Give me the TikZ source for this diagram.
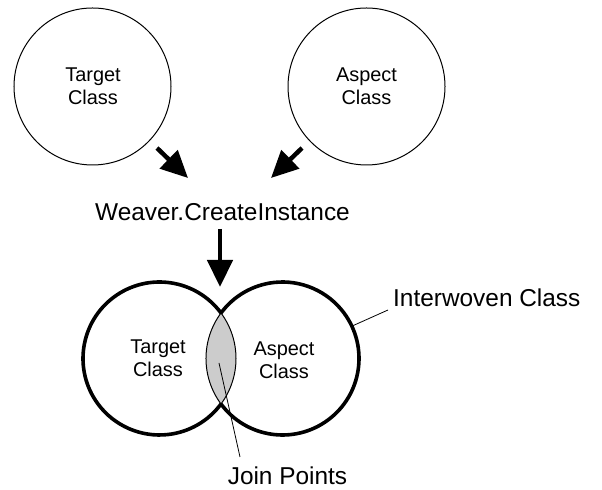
\documentclass[tikz,border=0pt]{standalone}
\usepackage{fontspec}
\setmainfont{Liberation Sans}
\usetikzlibrary{arrows.meta}
\definecolor{lensgray}{HTML}{CCCCCC}
\tikzset{
  bigtext/.style={font=\fontsize{24.5}{28}\selectfont, inner sep=0pt},
  smalltext/.style={font=\fontsize{20}{23.5}\selectfont, align=center, inner sep=0pt},
  topclass/.style={circle, draw, line width=1bp, minimum size=157bp, inner sep=0pt},
  botclass/.style={circle, minimum size=153bp, inner sep=0pt},
  fatarrow/.style={line width=4.5bp, -{Triangle[length=27bp,width=25bp]}},
  thickring/.style={line width=3.6bp},
  leader/.style={line width=0.8bp},
}
\begin{document}
\begin{tikzpicture}[x=1bp,y=1bp]
\useasboundingbox (0,0) rectangle (602,490);
% top classes
\node[topclass] (tc) at (92.5,403.5) {};
\node[smalltext] (tct) at (93,404) {Target\\Class};
\node[topclass] (ac) at (366.5,403.5) {};
\node[smalltext] (act) at (366.5,404) {Aspect\\Class};
% weaver
\node[bigtext, anchor=base] (wv) at (222.5,269.5) {Weaver.CreateInstance};
% arrows into weaver
\coordinate (a1s) at (157,342);
\coordinate (a1e) at (188,312);
\coordinate (a2s) at (302,342);
\coordinate (a2e) at (271,312);
\draw[fatarrow] (a1s) -- (a1e);
\draw[fatarrow] (a2s) -- (a2e);
\coordinate (a3s) at (220,261);
\coordinate (a3e) at (220,203);
\draw[fatarrow] (a3s) -- (a3e);
% interwoven class
\node[botclass] (lc) at (159.5,131.5) {};
\node[botclass] (rc) at (282.5,131.5) {};
\begin{scope}
  \clip (lc.center) circle (76.5);
  \fill[lensgray] (rc.center) circle (76.5);
\end{scope}
\draw[line width=1bp] ([shift={(-36.5:76.5)}]lc.center) arc (-36.5:36.5:76.5)
      arc (143.5:216.5:76.5) -- cycle;
\draw[thickring] ([shift={(36.5:76.5)}]lc.center) arc (36.5:323.5:76.5);
\draw[thickring] ([shift={(-143.5:76.5)}]rc.center) arc (-143.5:143.5:76.5);
\node[smalltext] (lct) at (158,131.5) {Target\\Class};
\node[smalltext] (rct) at (284,129.5) {Aspect\\Class};
% labels
\node[bigtext, anchor=base west] (iw) at (393,183) {Interwoven Class};
\coordinate (iwl) at (388,180);
\draw[leader] (rc.25) -- (iwl);
\node[bigtext, anchor=base] (jp) at (287.5,5) {Join Points};
\coordinate (jpl) at (219,127);
\coordinate (jpe) at (240,33);
\draw[leader] (jpl) -- (jpe);
\end{tikzpicture}
\end{document}
